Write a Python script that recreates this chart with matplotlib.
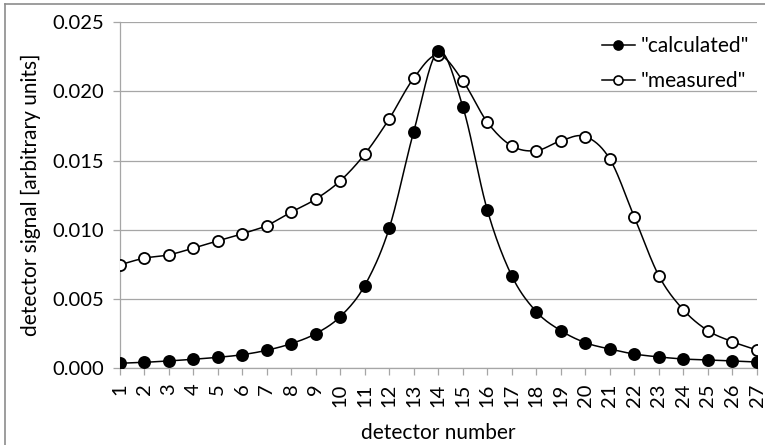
import numpy as np
import matplotlib
matplotlib.use("Agg")
import matplotlib.pyplot as plt
from matplotlib.lines import Line2D

detectors = list(range(1, 28))
calculated = [0.00034, 0.00041, 0.00051, 0.00063, 0.00077, 0.00096, 0.00128, 0.00176, 0.00248,
              0.00371, 0.00596, 0.01011, 0.0171, 0.02289, 0.01891, 0.01143, 0.00666, 0.00407,
              0.0027, 0.00183, 0.00137, 0.00101, 0.0008, 0.00065, 0.00058, 0.00051, 0.00043]
measured = [0.00745, 0.00794, 0.00818, 0.00866, 0.00919, 0.0097, 0.0103, 0.01127, 0.01221,
            0.01353, 0.01546, 0.01802, 0.02096, 0.02265, 0.02077, 0.01778, 0.01606, 0.01572,
            0.01643, 0.01674, 0.0151, 0.0109, 0.00666, 0.0042, 0.0027, 0.0019, 0.0013]
labels = ['"calculated"', '"measured"']
yticks = [0.000, 0.005, 0.010, 0.015, 0.020, 0.025]

plt.rcParams['font.family'] = ['Lato', 'DejaVu Sans']


def smooth(x, y, n=20):
    # Excel-like smoothed line: cubic Bezier segments with Catmull-Rom control points
    x = np.asarray(x, float)
    y = np.asarray(y, float)
    px = np.concatenate([[x[0]], x, [x[-1]]])
    py = np.concatenate([[y[0]], y, [y[-1]]])
    xs, ys = [], []
    t = np.linspace(0, 1, n)
    for i in range(1, len(px) - 2):
        p0 = np.array([px[i], py[i]])
        p3 = np.array([px[i + 1], py[i + 1]])
        c1 = p0 + (np.array([px[i + 1], py[i + 1]]) - np.array([px[i - 1], py[i - 1]])) / 6
        c2 = p3 - (np.array([px[i + 2], py[i + 2]]) - np.array([px[i], py[i]])) / 6
        b = ((1 - t) ** 3)[:, None] * p0 + (3 * (1 - t) ** 2 * t)[:, None] * c1 + \
            (3 * (1 - t) * t ** 2)[:, None] * c2 + (t ** 3)[:, None] * p3
        xs.append(b[:, 0])
        ys.append(b[:, 1])
    return np.concatenate(xs), np.concatenate(ys)


fig = plt.figure(figsize=(7.65, 4.45), dpi=100)
ax = fig.add_axes([119.5 / 765, 1 - 368 / 445, (757 - 119.5) / 765, (368 - 22.3) / 445])

grid_c = '#a6a6a6'
for vals, face in [(measured, 'white'), (calculated, 'black')]:
    sx, sy = smooth(detectors, vals)
    ax.plot(sx, sy, color='black', lw=1.1, zorder=3)
    ax.plot(detectors, vals, ls='none', marker='o', ms=8, mfc=face, mec='black', mew=1.3, zorder=4)

ax.set_xlim(1, 27)
ax.set_ylim(0, 0.025)
ax.set_yticks(yticks)
ax.set_yticklabels([f'{v:.3f}' for v in yticks], fontsize=14.5)
ax.set_xticks(detectors)
ax.set_xticklabels([str(d) for d in detectors], rotation=90, fontsize=14.5)
ax.grid(axis='y', color=grid_c, lw=0.9)
ax.set_axisbelow(True)
for s in ['top', 'right']:
    ax.spines[s].set_visible(False)
for s in ['left', 'bottom']:
    ax.spines[s].set_color(grid_c)
    ax.spines[s].set_linewidth(0.9)
ax.tick_params(axis='both', color=grid_c, length=5, width=0.9, pad=6)

ax.set_xlabel('detector number', fontsize=15, labelpad=12)
ax.set_ylabel('detector signal [arbitrary units]', fontsize=15, labelpad=8)

handles = [Line2D([], [], color='black', lw=1.1, marker='o', ms=6.5, mfc='black', mec='black', mew=1.2),
           Line2D([], [], color='black', lw=1.1, marker='o', ms=6.5, mfc='white', mec='black', mew=1.2)]
ax.legend(handles, labels, loc='upper right', bbox_to_anchor=(1.0, 0.985), frameon=False,
          fontsize=15, handlelength=1.6, handletextpad=0.25, labelspacing=0.75, borderaxespad=0.0)

# outer chart border (left and top visible)
fig.add_artist(Line2D([4.5 / 765, 4.5 / 765], [0, 1 - 4 / 445], color='#8c8c8c', lw=1.2))
fig.add_artist(Line2D([4.5 / 765, 1], [1 - 4 / 445, 1 - 4 / 445], color='#8c8c8c', lw=1.2))

fig.savefig('out.png', dpi=100, facecolor='white')
